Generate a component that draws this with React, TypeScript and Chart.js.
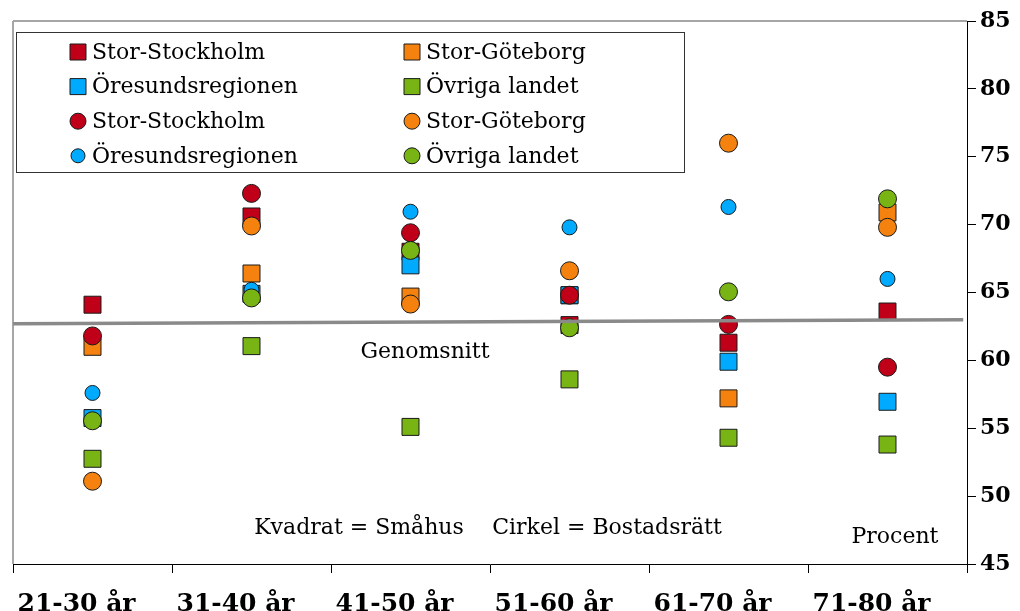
import React, { useEffect, useRef } from 'react';
import { Chart, registerables } from 'chart.js';

Chart.register(...registerables);

const categories = ['21-30 år', '31-40 år', '41-50 år', '51-60 år', '61-70 år', '71-80 år'];

// Kvadrat = Småhus
const smahusStockholm = [64.1, 70.6, 68.0, 62.6, 61.3, 63.6];
const smahusGoteborg = [61.0, 66.4, 64.7, 64.8, 57.2, 70.9];
const smahusOresund = [55.75, 64.9, 67.0, 64.8, 59.9, 56.95];
const smahusOvriga = [52.75, 61.05, 55.1, 58.6, 54.3, 53.8];

// Cirkel = Bostadsrätt
const bostadStockholm = [61.8, 72.3, 69.4, 64.8, 62.65, 59.5];
const bostadGoteborg = [51.1, 69.9, 64.15, 66.6, 76.0, 69.8];
const bostadOresund = [57.6, 65.2, 70.95, 69.8, 71.3, 66.0];
const bostadOvriga = [55.55, 64.6, 68.1, 62.4, 65.05, 71.9];

// Genomsnitt line (position along the x-range 0..1, value)
const genomsnittX = [0, 0.996];
const genomsnittY = [62.7, 63.0];

const yTicks = [45, 50, 55, 60, 65, 70, 75, 80, 85];

const seriesNames = ['Stor-Stockholm', 'Stor-Göteborg', 'Öresundsregionen', 'Övriga landet'];
const seriesColors = ['#C00018', '#F5820F', '#00AAFF', '#78B414'];

const FONT = "'DejaVu Serif', serif";

export default function App() {
  const ref = useRef<HTMLCanvasElement>(null);

  useEffect(() => {
    const canvas = ref.current;
    if (!canvas) return;

    const squares = [smahusStockholm, smahusGoteborg, smahusOresund, smahusOvriga];
    const circles = [bostadStockholm, bostadGoteborg, bostadOresund, bostadOvriga];

    const datasets: any[] = [];
    squares.forEach((d, i) => {
      datasets.push({
        type: 'line',
        label: seriesNames[i],
        data: d,
        showLine: false,
        backgroundColor: seriesColors[i],
        borderColor: '#1a1a1a',
        borderWidth: 1,
        pointStyle: 'rect',
        pointRadius: 12,
        pointHoverRadius: 12,
        pointBorderWidth: 1,
        order: 10 - i,
        xAxisID: 'x',
        yAxisID: 'y',
        _legendStyle: 'rect',
        _legendR: 8,
      });
    });
    circles.forEach((d, i) => {
      const r = i === 2 ? 7.5 : 9;
      datasets.push({
        type: 'line',
        label: seriesNames[i],
        data: d,
        showLine: false,
        backgroundColor: seriesColors[i],
        borderColor: '#1a1a1a',
        borderWidth: 1,
        pointStyle: 'circle',
        pointRadius: r,
        pointHoverRadius: r,
        pointBorderWidth: 1,
        order: 6 - i,
        xAxisID: 'x',
        yAxisID: 'y',
        _legendStyle: 'circle',
        _legendR: i === 2 ? 7 : 8,
      });
    });
    datasets.push({
      type: 'line',
      label: 'Genomsnitt',
      data: genomsnittX.map((x, i) => ({ x, y: genomsnittY[i] })),
      borderColor: '#8a8a8a',
      borderWidth: 3.5,
      pointRadius: 0,
      fill: false,
      order: 0,
      xAxisID: 'x2',
      yAxisID: 'y',
    });

    const decor = {
      id: 'decor',
      beforeDatasetsDraw(chart: any) {
        const { ctx, chartArea } = chart;
        ctx.save();
        ctx.strokeStyle = '#a6a6a6';
        ctx.lineWidth = 2;
        ctx.beginPath();
        ctx.moveTo(chartArea.left, chartArea.top);
        ctx.lineTo(chartArea.right, chartArea.top);
        ctx.moveTo(chartArea.left, chartArea.top);
        ctx.lineTo(chartArea.left, chartArea.bottom);
        ctx.stroke();

        ctx.fillStyle = '#000';
        ctx.font = `22px ${FONT}`;
        ctx.textAlign = 'center';
        ctx.textBaseline = 'alphabetic';
        ctx.fillText('Genomsnitt', 425, 358);
        ctx.fillText('Kvadrat = Småhus', 359, 534);
        ctx.fillText('Cirkel = Bostadsrätt', 607, 534);
        ctx.fillText('Procent', 895, 543);
        ctx.restore();
      },
      afterDraw(chart: any) {
        const { ctx } = chart;
        ctx.save();
        ctx.fillStyle = '#fff';
        ctx.fillRect(16.5, 32.5, 668, 140);
        ctx.strokeStyle = '#333';
        ctx.lineWidth = 1;
        ctx.strokeRect(16.5, 32.5, 668, 140);
        const ds = chart.data.datasets;
        ctx.font = `22px ${FONT}`;
        ctx.textAlign = 'left';
        ctx.textBaseline = 'middle';
        for (let i = 0; i < 8; i++) {
          const d = ds[i];
          const row = Math.floor(i / 2);
          const col = i % 2;
          const cx = col === 0 ? 78 : 412;
          const cy = 52 + row * 34.6;
          ctx.fillStyle = d.backgroundColor;
          ctx.strokeStyle = '#1a1a1a';
          ctx.lineWidth = 1;
          ctx.beginPath();
          if (d._legendStyle === 'rect') {
            ctx.rect(cx - d._legendR, cy - d._legendR, d._legendR * 2, d._legendR * 2);
          } else {
            ctx.arc(cx, cy, d._legendR, 0, Math.PI * 2);
          }
          ctx.fill();
          ctx.stroke();
          ctx.fillStyle = '#000';
          ctx.fillText(d.label, col === 0 ? 92 : 426, cy + 1);
        }
        ctx.restore();
      },
    };

    const chart = new Chart(canvas, {
      type: 'line',
      data: { labels: categories, datasets },
      options: {
        animation: false,
        responsive: true,
        maintainAspectRatio: false,
        layout: { padding: { top: 21, left: 9, right: 0, bottom: 0 } },
        plugins: {
          legend: { display: false },
          tooltip: { enabled: false },
        },
        scales: {
          x: {
            type: 'category',
            offset: true,
            grid: {
              offset: true,
              drawOnChartArea: false,
              drawTicks: true,
              tickLength: 9,
              color: '#000',
            },
            border: { color: '#000', width: 1 },
            ticks: {
              color: '#000',
              font: { family: FONT, size: 25, weight: 'bold' },
              padding: 16,
              labelOffset: -16,
              maxRotation: 0,
              autoSkip: false,
            },
            afterFit: (s: any) => {
              s.height = 47;
            },
          },
          x2: {
            type: 'linear',
            display: false,
            min: 0,
            max: 1,
          },
          y: {
            position: 'right',
            min: 45,
            max: 85,
            afterBuildTicks: (s: any) => {
              s.ticks = yTicks.map((v) => ({ value: v }));
            },
            ticks: {
              color: '#000',
              font: { family: FONT, size: 22, weight: 'bold' },
              padding: 4,
            },
            grid: {
              drawOnChartArea: false,
              tickLength: 9,
              color: '#000',
            },
            border: { color: '#000', width: 1 },
            afterFit: (s: any) => {
              s.width = 53;
            },
          },
        },
      } as any,
      plugins: [decor],
    });

    return () => chart.destroy();
  }, []);

  return (
    <div style={{ position: 'fixed', left: 0, top: 0, width: 1020, height: 611, background: '#fff' }}>
      <canvas ref={ref} />
    </div>
  );
}
